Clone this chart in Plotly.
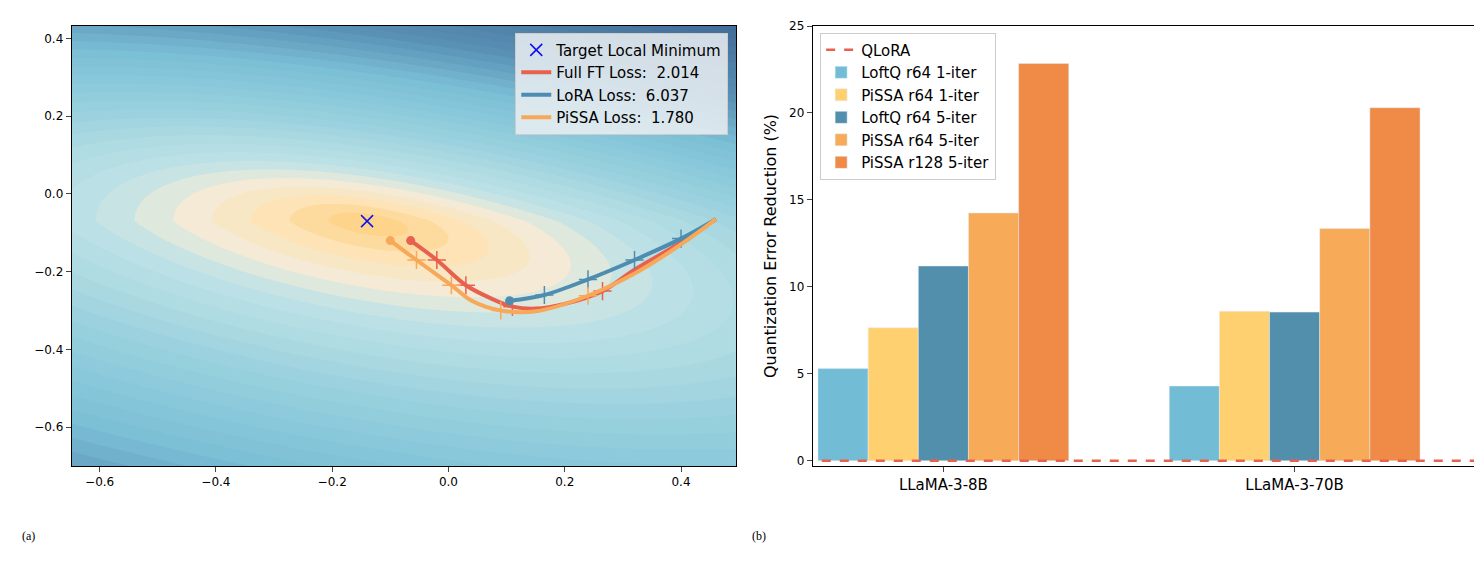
import numpy as np
import plotly.graph_objects as go
from plotly.subplots import make_subplots

# loss landscape (quadratic bowl around the target minimum, steeper above it)
target = [-0.14, -0.07]
hess = [[1.0, 1.1], [1.1, 4.2]]
tilt = [0.1, 0.3]
upper_tilt = 0.8

# trajectories
ft_x = [0.46, 0.40, 0.32, 0.265, 0.20, 0.15, 0.11, 0.075, 0.03, -0.02, -0.065]
ft_y = [-0.065, -0.125, -0.195, -0.25, -0.283, -0.295, -0.29, -0.27, -0.235, -0.17, -0.12]
ft_mark = [3, 6, 8, 9]
lora_x = [0.46, 0.40, 0.32, 0.24, 0.165, 0.105]
lora_y = [-0.065, -0.115, -0.17, -0.22, -0.26, -0.275]
lora_mark = [1, 2, 3, 4]
pissa_x = [0.46, 0.40, 0.32, 0.24, 0.15, 0.09, 0.04, 0.005, -0.055, -0.10]
pissa_y = [-0.065, -0.13, -0.205, -0.262, -0.302, -0.3, -0.275, -0.235, -0.17, -0.12]
pissa_mark = [3, 5, 7, 8]

# bar chart
models = ["LLaMA-3-8B", "LLaMA-3-70B"]
series = ["LoftQ r64 1-iter", "PiSSA r64 1-iter", "LoftQ r64 5-iter", "PiSSA r64 5-iter", "PiSSA r128 5-iter"]
values = [[5.3, 4.3], [7.65, 8.6], [11.2, 8.55], [14.25, 13.35], [22.85, 20.3]]
colors = ["#72BCD5", "#FFD06F", "#528FAD", "#F7AA58", "#EF8A47"]

fig = make_subplots(rows=1, cols=2, horizontal_spacing=0.02)

gx = np.linspace(-0.65, 0.5, 240)
gy = np.linspace(-0.7, 0.45, 240)
X, Y = np.meshgrid(gx, gy)
dx, dy = X - target[0], Y - target[1]
q = hess[0][0] * dx**2 + 2 * hess[0][1] * dx * dy + hess[1][1] * dy**2
Z = np.sqrt(q) + tilt[0] * dx + tilt[1] * dy + upper_tilt * np.maximum(dy, 0)
fig.add_trace(go.Contour(x=gx, y=gy, z=Z, showscale=False, line_width=0,
                         zmin=0, zmax=2.2, contours=dict(start=0, end=2.25, size=0.06),
                         colorscale=[[0, "#FDD07E"], [0.07, "#FDE3B5"], [0.13, "#F3EBD8"], [0.19, "#BFE2E6"],
                                     [0.38, "#95CFDD"], [0.55, "#7BBFD6"], [0.7, "#5A92B6"],
                                     [0.85, "#4C7BA3"], [1, "#3E6894"]],
                         hoverinfo="skip", showlegend=False), row=1, col=1)

fig.add_trace(go.Scatter(x=[target[0]], y=[target[1]], mode="markers", name="Target Local Minimum",
                         marker=dict(symbol="x-thin", size=12, line=dict(color="#1010EE", width=1.5))),
              row=1, col=1)

for xs, ys, mk, col, name in [(ft_x, ft_y, ft_mark, "#E8604E", "Full FT Loss:  2.014"),
                              (lora_x, lora_y, lora_mark, "#4E8DB0", "LoRA Loss:  6.037"),
                              (pissa_x, pissa_y, pissa_mark, "#F7A858", "PiSSA Loss:  1.780")]:
    fig.add_trace(go.Scatter(x=xs, y=ys, mode="lines", name=name, line=dict(color=col, width=4, shape="spline")),
                  row=1, col=1)
    fig.add_trace(go.Scatter(x=[xs[i] for i in mk], y=[ys[i] for i in mk], mode="markers", showlegend=False,
                             marker=dict(symbol="cross-thin", size=13, line=dict(color=col, width=1.5))),
                  row=1, col=1)
    fig.add_trace(go.Scatter(x=[xs[-1]], y=[ys[-1]], mode="markers", showlegend=False,
                             marker=dict(symbol="circle", size=9, color=col)),
                  row=1, col=1)

fig.add_trace(go.Scatter(x=[-0.5, 1.6], y=[0, 0], mode="lines", name="QLoRA", legend="legend2",
                         line=dict(color="#E8604E", width=2.5, dash="dash")), row=1, col=2)
for name, vals, col in zip(series, values, colors):
    fig.add_trace(go.Bar(x=[0, 1], y=vals, name=name, marker_color=col, legend="legend2"), row=1, col=2)

ax = dict(showline=True, linecolor="black", mirror=True, ticks="outside", showgrid=False, zeroline=False,
          tickfont=dict(size=12, color="black"))
ticks_l = [-0.6, -0.4, -0.2, 0.0, 0.2, 0.4]
labels_l = ["\u22120.6", "\u22120.4", "\u22120.2", "0.0", "0.2", "0.4"]
fig.update_xaxes(ax, row=1, col=1, range=[-0.648, 0.494], tickvals=ticks_l, ticktext=labels_l,
                 domain=[0.043, 0.491])
fig.update_yaxes(ax, row=1, col=1, range=[-0.70, 0.432], tickvals=ticks_l, ticktext=labels_l)
fig.update_xaxes(ax, row=1, col=2, range=[-0.372, 1.514], tickvals=[0, 1], ticktext=models,
                 tickfont=dict(size=15), domain=[0.543, 0.99])
fig.update_yaxes(ax, row=1, col=2, range=[-0.3, 25], tickvals=[0, 5, 10, 15, 20, 25],
                 title=dict(text="Quantization Error Reduction (%)", font=dict(size=16), standoff=8))

fig.update_layout(
    width=1482, height=564, plot_bgcolor="white", paper_bgcolor="white",
    font=dict(family="DejaVu Sans", color="black"),
    margin=dict(l=0, r=0, t=18, b=106),
    barmode="group", bargap=0.286, bargroupgap=0,
    legend=dict(x=0.486, y=0.985, xanchor="right", yanchor="top", bgcolor="rgba(235,238,242,0.85)",
                bordercolor="#CCCCCC", borderwidth=1, font=dict(size=15)),
    legend2=dict(x=0.548, y=0.985, xanchor="left", yanchor="top", bgcolor="rgba(255,255,255,0.9)",
                 bordercolor="#CCCCCC", borderwidth=1, font=dict(size=15)),
)
fig.add_annotation(text="(a)", x=0.008, y=-0.18, xref="paper", yref="paper", showarrow=False,
                   font=dict(family="Liberation Serif", size=12))
fig.add_annotation(text="(b)", x=0.507, y=-0.18, xref="paper", yref="paper", showarrow=False,
                   font=dict(family="Liberation Serif", size=12))

fig.write_html("out.html")
